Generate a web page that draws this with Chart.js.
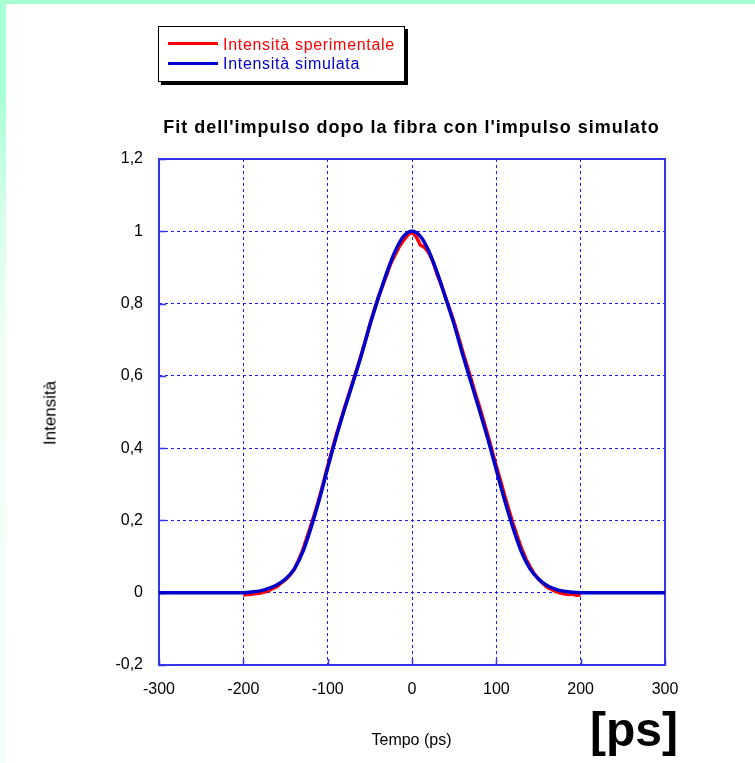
<!DOCTYPE html>
<html><head><meta charset="utf-8">
<script src="https://cdn.jsdelivr.net/npm/chart.js@4.4.0/dist/chart.umd.min.js"></script>
<style>
html,body{margin:0;padding:0;background:#fff;}
#wrap{position:relative;width:755px;height:763px;overflow:hidden;background:#fff;font-family:"Liberation Sans",Arial,sans-serif;}
#topstrip{position:absolute;left:0;top:0;width:755px;height:4px;background:#a8ffd4;}
#leftstrip{position:absolute;left:0;top:0;width:6px;height:763px;background:linear-gradient(to bottom,#a8ffd4 0%,#a8ffd4 12%,#d6ffea 28%,#eefff6 45%,#f5fffa 100%);}
canvas{position:absolute;left:0;top:0;}
.t{position:absolute;white-space:nowrap;line-height:1;}
#legbox{position:absolute;left:158px;top:26px;width:245px;height:54px;border:1px solid #000;box-shadow:3px 3px 0 #000;background:#fff;}
.lline{position:absolute;height:3px;}
</style></head>
<body><div id="wrap">
<div id="topstrip"></div><div id="leftstrip"></div>
<canvas id="c" width="755" height="763"></canvas>
<div id="legbox"></div>
<div class="lline" style="left:168px;top:42px;width:50px;background:#ff0000;"></div>
<div class="lline" style="left:168px;top:62px;width:50px;background:#0000cc;"></div>
<div class="t" id="leg1" style="left:223px;top:37px;font-size:16px;letter-spacing:0.7px;color:#ff0000;"></div>
<div class="t" id="leg2" style="left:223px;top:56px;font-size:16px;letter-spacing:0.7px;color:#0000cc;"></div>
<div class="t" id="title" style="left:0;width:823px;text-align:center;top:118px;font-size:18px;font-weight:bold;letter-spacing:1px;color:#000;"></div>
<div class="t" id="ytitle" style="left:50px;top:413px;font-size:17px;color:#000;transform:translate(-50%,-50%) rotate(-90deg);"></div>
<div class="t" id="xtitle" style="left:0;width:823px;text-align:center;top:732px;font-size:16px;color:#000;"></div>
<div class="t" id="unit" style="left:590px;top:706px;font-size:48px;font-weight:bold;color:#000;"></div>
</div>
<script>
const seriesNames = ['Intensità sperimentale', 'Intensità simulata'];
const chartTitle = "Fit dell'impulso dopo la fibra con l'impulso simulato";
const xTitle = 'Tempo (ps)';
const yTitle = 'Intensità';
const unitLabel = '[ps]';

const xTickValues = [-300, -200, -100, 0, 100, 200, 300];
const xTickLabels = ['-300', '-200', '-100', '0', '100', '200', '300'];
const yTickValues = [-0.2, 0, 0.2, 0.4, 0.6, 0.8, 1, 1.2];
const yTickLabels = ['-0,2', '0', '0,2', '0,4', '0,6', '0,8', '1', '1,2'];

const simX = [-300,-250,-200,-190,-180,-170,-160,-150,-140,-130,-120,-110,-100,-90,-80,-70,-60,-50,-40,-30,-20,-10,0,10,20,30,40,50,60,70,80,90,100,110,120,130,140,150,160,170,180,190,200,250,300];
const simY = [0,0,0,0.002,0.005,0.012,0.022,0.038,0.064,0.110,0.178,0.257,0.345,0.430,0.508,0.582,0.658,0.740,0.815,0.885,0.945,0.986,1.0,0.986,0.945,0.885,0.815,0.742,0.660,0.582,0.505,0.425,0.340,0.255,0.178,0.112,0.066,0.038,0.020,0.010,0.004,0.001,0,0,0];

const expX = [-200,-195,-190,-185,-180,-175,-170,-165,-160,-155,-150,-145,-140,-135,-130,-125,-120,-115,-110,-105,-100,-95,-90,-85,-80,-75,-70,-65,-60,-55,-50,-45,-40,-35,-30,-25,-20,-15,-10,-5,0,5,10,15,20,25,30,35,40,45,50,55,60,65,70,75,80,85,90,95,100,105,110,115,120,125,130,135,140,145,150,155,160,165,170,175,180,185,190,195,200];
const expY = [-0.006,-0.005,-0.004,-0.002,-0.001,0.002,0.006,0.012,0.017,0.027,0.036,0.048,0.063,0.088,0.115,0.150,0.185,0.222,0.262,0.305,0.350,0.392,0.435,0.472,0.512,0.548,0.585,0.622,0.660,0.700,0.742,0.780,0.818,0.848,0.880,0.912,0.935,0.958,0.975,0.990,0.998,0.985,0.962,0.955,0.940,0.915,0.880,0.850,0.815,0.782,0.748,0.708,0.668,0.630,0.592,0.552,0.515,0.475,0.435,0.392,0.350,0.310,0.268,0.228,0.190,0.155,0.122,0.094,0.072,0.052,0.038,0.026,0.016,0.010,0.004,0.000,-0.003,-0.005,-0.004,-0.007,-0.006];

document.getElementById('leg1').textContent = seriesNames[0];
document.getElementById('leg2').textContent = seriesNames[1];
document.getElementById('title').textContent = chartTitle;
document.getElementById('xtitle').textContent = xTitle;
document.getElementById('ytitle').textContent = yTitle;
document.getElementById('unit').textContent = unitLabel;

const FONT = '"Liberation Sans", Arial, sans-serif';
const AXIS = '#3535ee';
const GRID = '#1f1ff0';

const framePlugin = {
  id: 'frame',
  beforeDatasetsDraw(chart) {
    const {ctx, chartArea: a, scales} = chart;
    ctx.save();
    ctx.strokeStyle = AXIS;
    ctx.lineWidth = 2;
    ctx.setLineDash([]);
    ctx.strokeRect(a.left, a.top, a.right - a.left, a.bottom - a.top);
    ctx.lineWidth = 1.5;
    ctx.beginPath();
    xTickValues.forEach(v => {
      const px = Math.round(scales.x.getPixelForValue(v)) + 0.5;
      ctx.moveTo(px, a.bottom); ctx.lineTo(px, a.bottom - 6);
    });
    yTickValues.forEach(v => {
      const py = Math.round(scales.y.getPixelForValue(v)) + 0.5;
      ctx.moveTo(a.left, py); ctx.lineTo(a.left + 7, py);
    });
    ctx.stroke();
    ctx.restore();
  }
};

new Chart(document.getElementById('c'), {
  type: 'scatter',
  data: {
    datasets: [
      { label: seriesNames[0], data: expX.map((x, i) => ({x, y: expY[i]})), showLine: true,
        borderColor: '#ff0000', backgroundColor: '#ff0000', borderWidth: 3.5, pointRadius: 0, order: 2 },
      { label: seriesNames[1], data: simX.map((x, i) => ({x, y: simY[i]})), showLine: true,
        cubicInterpolationMode: 'monotone',
        borderColor: '#0000cc', backgroundColor: '#0000cc', borderWidth: 3.5, pointRadius: 0, order: 1 }
    ]
  },
  options: {
    responsive: false, animation: false, devicePixelRatio: 1,
    layout: { padding: { top: 159, right: 90, left: 0, bottom: 0 } },
    plugins: { legend: { display: false }, tooltip: { enabled: false }, title: { display: false } },
    scales: {
      x: {
        type: 'linear', min: -300, max: 300,
        afterBuildTicks(s) { s.ticks = xTickValues.map(v => ({value: v})); },
        afterFit(s) { s.height = 98; },
        ticks: { color: '#000', font: { family: FONT, size: 16 }, padding: 15, maxRotation: 0,
                 callback: (v, i) => xTickLabels[i] },
        grid: { color: GRID, lineWidth: 1, drawTicks: false },
        border: { display: false, dash: [3, 3] }
      },
      y: {
        type: 'linear', min: -0.2, max: 1.2,
        afterBuildTicks(s) { s.ticks = yTickValues.map(v => ({value: v})); },
        afterFit(s) { s.width = 159; },
        ticks: { color: '#000', font: { family: FONT, size: 16 }, padding: 16,
                 callback: (v, i) => yTickLabels[i] },
        grid: { color: GRID, lineWidth: 1, drawTicks: false },
        border: { display: false, dash: [3, 3] }
      }
    }
  },
  plugins: [framePlugin]
});
</script>
</body></html>
